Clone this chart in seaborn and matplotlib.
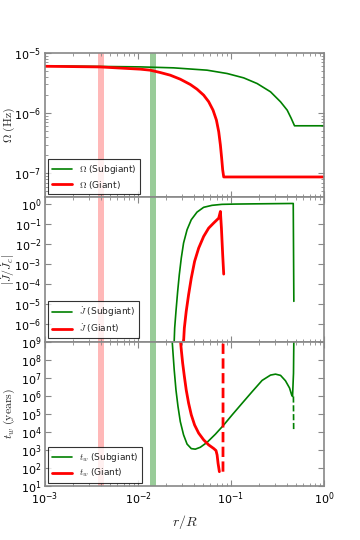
import numpy as np
import pandas as pd
import matplotlib
matplotlib.use("Agg")
import matplotlib.pyplot as plt
import seaborn as sns

# ---------------- data ----------------
# Omega (Hz)
om_sub_r = [1e-3, 0.0106, 0.0241, 0.0552, 0.0908, 0.137, 0.191, 0.266, 0.341, 0.402, 0.444, 0.482, 1.0]
om_sub_v = [6.1e-6, 5.86e-6, 5.65e-6, 5.17e-6, 4.55e-6, 3.85e-6, 3.1e-6, 2.26e-6, 1.54e-6, 1.12e-6,
            8.2e-7, 6.16e-7, 6.16e-7]
om_gia_r = [1e-3, 0.00392, 0.0106, 0.0135, 0.0173, 0.0222, 0.0285, 0.0365, 0.0431, 0.0508, 0.0575,
            0.0641, 0.0697, 0.0738, 0.0769, 0.0794, 0.0814, 0.0835, 1.0]
om_gia_v = [6.0e-6, 5.85e-6, 5.37e-6, 5.17e-6, 4.73e-6, 4.27e-6, 3.66e-6, 2.99e-6, 2.5e-6, 1.99e-6,
            1.55e-6, 1.12e-6, 7.66e-7, 4.9e-7, 2.95e-7, 1.77e-7, 1.14e-7, 8.7e-8, 8.7e-8]

# |Jdot / Jdot_c|
j_sub_r = [0.0240, 0.0248, 0.0256, 0.0267, 0.0278, 0.0292, 0.0309, 0.0337, 0.0374, 0.0431, 0.0508,
           0.0625, 0.080, 0.111, 0.162, 0.467, 0.474]
j_sub_v = [1e-8, 6e-7, 4.1e-6, 4.1e-5, 2.8e-4, 1.9e-3, 0.0108, 0.05, 0.158, 0.38, 0.66,
           0.83, 0.93, 0.96, 0.98, 1.03, 1.3e-5]
j_gia_r = [0.0300, 0.0315, 0.033, 0.035, 0.0374, 0.0406, 0.0449, 0.0508, 0.0575, 0.0651, 0.0738,
           0.0769, 0.0789, 0.0814, 0.0835]
j_gia_v = [1e-8, 6e-7, 4.1e-6, 2.8e-5, 1.9e-4, 1.3e-3, 6e-3, 0.023, 0.06, 0.108, 0.19,
           0.41, 0.06, 2.8e-3, 3e-4]

# t_w (years)
t_sub_r = [0.0232, 0.0238, 0.0245, 0.0256, 0.0269, 0.0285, 0.0309, 0.0337, 0.0374, 0.0413, 0.0468,
           0.0552, 0.0679, 0.0835, 0.103, 0.132, 0.169, 0.216, 0.266, 0.301, 0.341, 0.385,
           0.426, 0.448, 0.459, 0.470, 0.474]
t_sub_v = [1.5e9, 2.3e8, 2.8e7, 2.1e6, 2.6e5, 3.7e4, 6.8e3, 2.1e3, 1.18e3, 1.1e3, 1.4e3,
           2.6e3, 7.4e3, 2.4e4, 8.8e4, 3.9e5, 1.7e6, 7.1e6, 1.4e7, 1.58e7, 1.35e7, 6.8e6,
           2.7e6, 1.15e6, 9.2e5, 1.8e7, 1.5e9]
t_sub_neg_r = [0.469, 0.472]
t_sub_neg_v = [9.2e5, 1.05e4]
t_gia_r = [0.0285, 0.0292, 0.0302, 0.0315, 0.033, 0.035, 0.0374, 0.0406, 0.0449, 0.0508, 0.0575,
           0.0651, 0.069, 0.0709, 0.0726, 0.075]
t_gia_v = [1.5e9, 3.6e8, 6.6e7, 1.2e7, 2.1e6, 3.9e5, 8.8e4, 2.4e4, 8.5e3, 3.6e3, 1.9e3,
           1.2e3, 9.2e2, 5.2e2, 1.8e2, 62]
t_gia_neg_r = [0.0820, 0.0822]
t_gia_neg_v = [62, 1.5e9]

# shaded bands (r/R)
band_giant = (0.00368, 0.0043)
band_sub = (0.0133, 0.0156)

# ---------------- style ----------------
sns.set_style("white")
plt.rcParams.update({
    "font.family": ["DejaVu Sans"],
    "mathtext.fontset": "cm",
    "axes.edgecolor": "#888888",
    "axes.linewidth": 1.2,
    "xtick.direction": "in",
    "ytick.direction": "in",
    "xtick.top": True,
    "ytick.right": True,
    "xtick.bottom": True,
    "ytick.left": True,
    "xtick.color": "#888888",
    "ytick.color": "#888888",
    "xtick.labelcolor": "black",
    "ytick.labelcolor": "black",
    "xtick.major.size": 4,
    "ytick.major.size": 4,
    "xtick.minor.size": 2,
    "ytick.minor.size": 2,
    "xtick.minor.visible": True,
    "ytick.minor.visible": True,
    "xtick.labelsize": 8,
    "ytick.labelsize": 8,
    "ytick.major.pad": 2.5,
})

fig, axes = plt.subplots(3, 1, figsize=(3.6, 5.4), dpi=100, sharex=True)
fig.subplots_adjust(left=0.125, right=0.9, top=0.902, bottom=0.1, hspace=0)

def line(ax, r, v, color, lw, label=None, ls="-"):
    df = pd.DataFrame({"r": r, "v": v})
    sns.lineplot(data=df, x="r", y="v", ax=ax, color=color, lw=lw, label=label,
                 sort=False, estimator=None, linestyle=ls)

ax1, ax2, ax3 = axes
line(ax1, om_sub_r, om_sub_v, "green", 1.2, r"$\Omega$ (Subgiant)")
line(ax1, om_gia_r, om_gia_v, "red", 2.0, r"$\Omega$ (Giant)")
line(ax2, j_sub_r, j_sub_v, "green", 1.2, r"$\dot{J}$ (Subgiant)")
line(ax2, j_gia_r, j_gia_v, "red", 2.0, r"$\dot{J}$ (Giant)")
line(ax3, t_sub_r, t_sub_v, "green", 1.2, r"$t_w$ (Subgiant)")
line(ax3, t_gia_r, t_gia_v, "red", 2.0, r"$t_w$ (Giant)")
line(ax3, t_sub_neg_r, t_sub_neg_v, "green", 1.2, ls="--")
line(ax3, t_gia_neg_r, t_gia_neg_v, "red", 2.0, ls="--")

for ax in axes:
    ax.set_xscale("log")
    ax.set_yscale("log")
    ax.axvspan(*band_giant, color="red", alpha=0.28, lw=0, zorder=0)
    ax.axvspan(*band_sub, color="green", alpha=0.4, lw=0, zorder=0)
    ax.set_xlim(1e-3, 1.0)
    ax.set_xlabel("")
    leg = ax.legend(loc="lower left", fontsize=6.5, frameon=True, fancybox=False,
                    handlelength=2.2, borderaxespad=0.35, labelspacing=0.3,
                    borderpad=0.4)
    leg.get_frame().set_edgecolor("black")
    leg.get_frame().set_linewidth(0.8)

ax1.set_ylim(4e-8, 1e-5)
ax1.set_yticks([1e-7, 1e-6, 1e-5])
ax2.set_ylim(1.25e-7, 2.1)
ax2.set_yticks([1e-6, 1e-5, 1e-4, 1e-3, 1e-2, 1e-1, 1e0])
ax3.set_ylim(10, 1e9)
ax3.set_yticks([10**k for k in range(1, 10)])
ax3.set_xticks([1e-3, 1e-2, 1e-1, 1e0])

ax1.set_ylabel(r"$\Omega\ (\mathrm{Hz})$", fontsize=8.5)
ax2.set_ylabel(r"$|\dot{J}/\dot{J}_c|$", fontsize=8.5)
ax3.set_ylabel(r"$t_w\ (\mathrm{years})$", fontsize=8.5)
ax3.set_xlabel(r"$r/R$", fontsize=10)
for ax in axes:
    ax.yaxis.set_label_coords(-0.1, 0.5)

fig.savefig("out.png", dpi=100)
